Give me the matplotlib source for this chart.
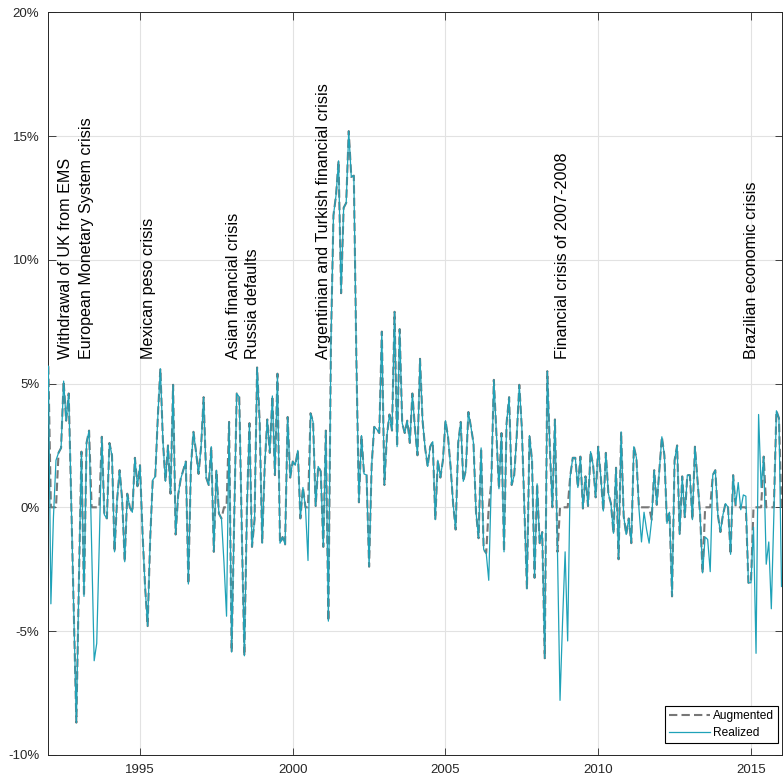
import numpy as np
import matplotlib
matplotlib.use("Agg")
import matplotlib.pyplot as plt
from matplotlib.lines import Line2D

plt.rcParams['font.family'] = ['Liberation Sans', 'DejaVu Sans']

# ---- data (monthly, % ) starting Jan 1992 ----
start_year = 1992
realized = [
    5.7, -3.9, -0.4, 1.9, 2.2, 2.4, 5.1, 3.5, 4.6, 0.2, -4.3, -8.7,        # 1992
    -3.0, 2.25, -3.6, 2.6, 3.1, -1.5, -6.2, -5.5, -1.5, 2.85, -0.3, -0.45,  # 1993
    2.6, 2.1, -1.8, 0.3, 1.5, 0.3, -2.2, 0.55, 0.0, -0.2, 2.0, 0.85,        # 1994
    1.7, -1.05, -3.2, -4.8, -1.3, 1.1, 1.25, 3.65, 5.6, 2.7, 1.05, 2.5,     # 1995
    0.55, 4.95, -1.1, 0.5, 1.15, 1.5, 1.85, -3.1, 1.65, 3.05, 2.25, 1.35,   # 1996
    2.45, 4.45, 1.2, 0.9, 2.45, -1.8, 1.5, -0.25, -0.45, -2.25, -4.4, 3.45, # 1997
    -5.85, -0.5, 4.6, 4.45, -1.0, -6.0, -0.3, 3.4, -1.6, -0.5, 5.65, 3.5,   # 1998
    -1.45, 1.7, 3.55, 2.2, 4.5, 1.3, 5.4, -1.45, -1.2, -1.5, 3.65, 1.2,     # 1999
    1.85, 1.7, 2.3, -0.45, 0.8, 0.0, -2.15, 3.8, 3.45, 0.05, 1.65, 1.45,    # 2000
    -1.6, 3.1, -4.6, 6.6, 11.8, 12.6, 14.0, 8.65, 12.1, 12.3, 15.2, 13.35,  # 2001
    13.4, 6.0, 0.2, 2.9, 1.35, 1.3, -2.4, 1.7, 3.25, 3.15, 3.0, 7.1,        # 2002
    0.9, 2.9, 3.75, 3.1, 7.9, 2.45, 7.2, 3.4, 3.0, 3.5, 2.6, 4.6,           # 2003
    3.2, 2.1, 6.0, 3.5, 2.4, 1.65, 2.45, 2.65, -0.5, 1.9, 1.2, 1.9,         # 2004
    3.5, 2.85, 1.65, 0.15, -0.9, 2.6, 3.45, 1.05, 1.5, 3.85, 3.25, 2.6,     # 2005
    -0.2, -1.25, 2.4, -1.7, -1.85, -2.95, 1.0, 5.15, 3.0, 0.75, 3.0, -1.8,  # 2006
    3.4, 4.45, 0.9, 1.3, 2.9, 4.95, 3.2, 0.0, -3.3, 2.9, 1.9, -2.85,        # 2007
    0.95, -1.45, -1.0, -6.1, 5.5, 2.4, 0.0, 3.55, -1.8, -7.8, -4.6, -1.8,   # 2008
    -5.4, 1.25, 2.0, 2.0, 0.8, 2.05, -0.05, 1.25, 0.05, 2.25, 1.7, 0.4,     # 2009
    2.45, 1.25, -0.15, 2.2, 0.55, 0.15, -1.05, 1.6, -2.1, 3.05, -0.35, -1.1,  # 2010
    -0.45, -1.45, 2.45, 2.0, -0.05, -1.4, -0.2, -0.9, -1.45, -0.5, 1.5, 0.1,  # 2011
    1.5, 2.85, 2.1, -0.65, -0.2, -3.6, 1.9, 2.5, -1.1, 1.25, -0.4, 1.3,     # 2012
    1.3, -0.5, 2.45, 1.1, -0.25, -2.65, -1.2, -1.3, -2.6, 1.3, 1.5, -0.3,   # 2013
    -1.0, -0.3, 0.15, 0.0, -1.9, 1.3, 0.1, 1.0, -0.1, 0.5, 0.45, -3.05,     # 2014
    -3.05, -0.8, -5.9, 3.75, 0.8, 2.05, -2.3, -1.4, -4.1, -0.3, 3.9, 3.6,   # 2015
    -3.2,                                                                    # 2016
]
augmented = [
    5.7, 0.0, 0.0, 0.0, 2.2, 2.4, 5.1, 3.5, 4.6, 0.2, -4.3, -8.7,          # 1992
    -3.0, 2.25, -3.6, 2.6, 3.1, 0.0, 0.0, 0.0, 0.0, 2.85, -0.3, -0.45,      # 1993
    2.6, 2.1, -1.8, 0.3, 1.5, 0.3, -2.2, 0.55, 0.0, -0.2, 2.0, 0.85,        # 1994
    1.7, -1.05, -3.2, -4.8, -1.3, 1.1, 1.25, 3.65, 5.6, 2.7, 1.05, 2.5,     # 1995
    0.55, 4.95, -1.1, 0.5, 1.15, 1.5, 1.85, -3.1, 1.65, 3.05, 2.25, 1.35,   # 1996
    2.45, 4.45, 1.2, 0.9, 2.45, -1.8, 1.5, -0.25, -0.45, 0.0, 0.0, 3.45,    # 1997
    -5.85, -0.5, 4.6, 4.45, -1.0, -6.0, 0.0, 3.4, -1.6, -0.5, 5.65, 3.5,    # 1998
    -1.45, 1.7, 3.55, 2.2, 4.5, 1.3, 5.4, -1.45, -1.2, -1.5, 3.65, 1.2,     # 1999
    1.85, 1.7, 2.3, -0.45, 0.8, 0.0, 0.0, 3.8, 3.45, 0.05, 1.65, 1.45,      # 2000
    -1.6, 3.1, -4.6, 6.6, 11.8, 12.6, 14.0, 8.65, 12.1, 12.3, 15.2, 13.35,  # 2001
    13.4, 6.0, 0.2, 2.9, 1.35, 1.3, -2.4, 1.7, 3.25, 3.15, 3.0, 7.1,        # 2002
    0.9, 2.9, 3.75, 3.1, 7.9, 2.45, 7.2, 3.4, 3.0, 3.5, 2.6, 4.6,           # 2003
    3.2, 2.1, 6.0, 3.5, 2.4, 1.65, 2.45, 2.65, -0.5, 1.9, 1.2, 1.9,         # 2004
    3.5, 2.85, 1.65, 0.15, -0.9, 2.6, 3.45, 1.05, 1.5, 3.85, 3.25, 2.6,     # 2005
    -0.2, -1.25, 2.4, -1.7, -1.85, 0.0, 1.0, 5.15, 3.0, 0.75, 3.0, -1.8,    # 2006
    3.4, 4.45, 0.9, 1.3, 2.9, 4.95, 3.2, 0.0, -3.3, 2.9, 1.9, -2.85,        # 2007
    0.95, -1.45, -1.0, -6.1, 5.5, 2.4, 0.0, 3.55, -1.8, 0.0, 0.0, 0.0,      # 2008
    0.0, 1.25, 2.0, 2.0, 0.8, 2.05, -0.05, 1.25, 0.05, 2.25, 1.7, 0.4,      # 2009
    2.45, 1.25, -0.15, 2.2, 0.55, 0.15, -1.05, 1.6, -2.1, 3.05, -0.35, -1.1,  # 2010
    -0.45, -1.45, 2.45, 2.0, 0.0, 0.0, 0.0, 0.0, 0.0, -0.5, 1.5, 0.1,       # 2011
    1.5, 2.85, 2.1, -0.65, -0.2, -3.6, 1.9, 2.5, -1.1, 1.25, -0.4, 1.3,     # 2012
    1.3, -0.5, 2.45, 1.1, -0.25, -2.65, 0.0, 0.0, 0.0, 1.3, 1.5, -0.3,      # 2013
    -1.0, -0.3, 0.15, 0.0, -1.9, 1.3, 0.0, 0.0, 0.0, 0.0, 0.0, -3.05,       # 2014
    -3.05, 0.0, 0.0, 0.0, 0.0, 2.05, 0.0, 0.0, 0.0, 0.0, 3.9, 3.6,          # 2015
    0.0,                                                                     # 2016
]

series_labels = ["Augmented", "Realized"]
x_ticks = [1995, 2000, 2005, 2010, 2015]
y_ticks = [-10, -5, 0, 5, 10, 15, 20]
y_tick_labels = ["-10%", "-5%", "0%", "5%", "10%", "15%", "20%"]

events = [
    ("Withdrawal of UK from EMS", 1992.55),
    ("European Monetary System crisis", 1993.25),
    ("Mexican peso crisis", 1995.27),
    ("Asian financial crisis", 1998.05),
    ("Russia defaults", 1998.67),
    ("Argentinian and Turkish financial crisis", 2001.02),
    ("Financial crisis of 2007-2008", 2008.84),
    ("Brazilian economic crisis", 2015.03),
]
event_level = 6.0

# ---- figure ----
W, H = 783, 778
fig = plt.figure(figsize=(W / 100, H / 100), dpi=100)
ax = fig.add_axes([48.35 / W, (H - 754.8) / H, (781.5 - 48.35) / W, (754.8 - 12.3) / H])

t = start_year + np.arange(len(realized)) / 12.0

axis_col = '#262626'
aug_col = '#777777'
real_col = '#1fa2b8'
ax.plot(t, augmented, color=aug_col, lw=1.5, ls=(0, (4, 2)), zorder=3)
ax.plot(t, realized, color=real_col, lw=0.9, zorder=4)

ax.set_xlim(1992, 2016)
ax.set_ylim(-10, 20)
ax.set_xticks(x_ticks)
ax.set_xticklabels([str(v) for v in x_ticks])
ax.set_yticks(y_ticks)
ax.set_yticklabels(y_tick_labels)

ax.grid(True, color='#e2e2e2', lw=0.8)
ax.set_axisbelow(True)
for s in ax.spines.values():
    s.set_color(axis_col)
    s.set_linewidth(0.7)
ax.tick_params(direction='in', length=5.4, width=0.6, top=True, right=True,
               labelsize=9.5, colors=axis_col, pad=6.5)

for label, xpos in events:
    ax.text(xpos, event_level, label, rotation=90, ha='center', va='bottom',
            fontsize=11.6, color='black', zorder=5)

handles = [Line2D([], [], color=aug_col, lw=1.5, ls=(0, (4, 2))),
           Line2D([], [], color=real_col, lw=0.9)]
leg = ax.legend(handles, series_labels, loc='lower right',
                bbox_to_anchor=(0.9956, 0.0155), borderaxespad=0,
                fontsize=8.6, handlelength=3.4, handletextpad=0.25,
                borderpad=0.35, labelspacing=0.4, fancybox=False,
                framealpha=1, edgecolor='black')
leg.get_frame().set_linewidth(0.8)

fig.savefig('out.png', dpi=100)
